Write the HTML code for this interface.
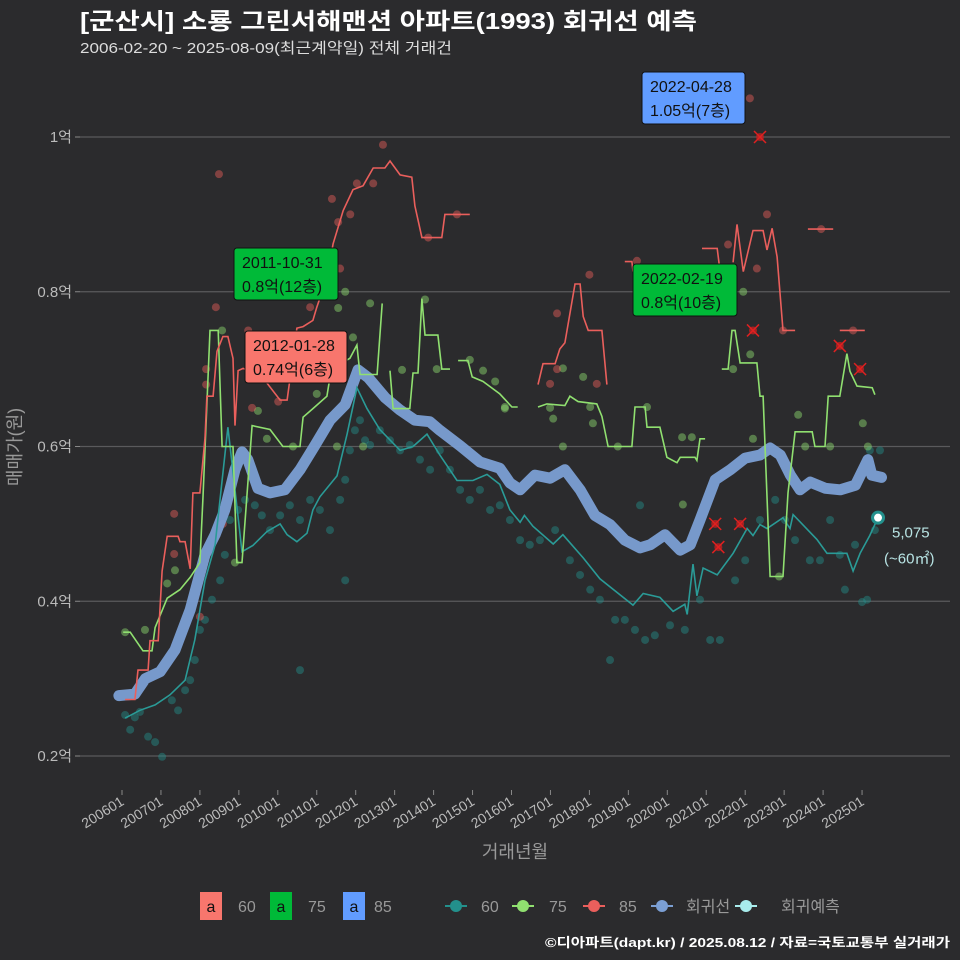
<!DOCTYPE html>
<html><head><meta charset="utf-8"><style>
body{margin:0;background:#2b2b2d;}
svg{display:block;font-family:"Liberation Sans","Noto Sans CJK KR",sans-serif;}
</style></head><body>
<svg id="c" width="960" height="960" viewBox="0 0 960 960" xmlns="http://www.w3.org/2000/svg">
<rect width="960" height="960" fill="#2b2b2d"/>
<text x="80" y="29" fill="#ffffff" font-size="23" font-weight="bold" textLength="617" lengthAdjust="spacingAndGlyphs">[군산시] 소룡 그린서해맨션 아파트(1993) 회귀선 예측</text>
<text x="80" y="53" fill="#dddddd" font-size="15" textLength="372" lengthAdjust="spacingAndGlyphs">2006-02-20 ~ 2025-08-09(최근계약일) 전체 거래건</text>
<g id="grid"></g><g id="marks"></g><g id="ann"></g>
<text x="515" y="858" fill="#999" font-size="18" text-anchor="middle">거래년월</text>
<text transform="translate(21,447) rotate(-90)" fill="#999" font-size="18" text-anchor="middle">매매가(원)</text>
<g font-size="16" fill="#999">
<rect x="200" y="892" width="22" height="28" fill="#F8766D"/><text x="211" y="912" fill="#111" text-anchor="middle">a</text><text x="238" y="912">60</text>
<rect x="270" y="892" width="22" height="28" fill="#00BA38"/><text x="281" y="912" fill="#111" text-anchor="middle">a</text><text x="308" y="912">75</text>
<rect x="343" y="892" width="22" height="28" fill="#619CFF"/><text x="354" y="912" fill="#111" text-anchor="middle">a</text><text x="374" y="912">85</text>
<g><line x1="445" y1="906" x2="467" y2="906" stroke="#23908c" stroke-width="2"/><circle cx="456" cy="906" r="6" fill="#23908c"/><text x="481" y="912">60</text></g>
<g><line x1="512" y1="906" x2="534" y2="906" stroke="#90e070" stroke-width="2"/><circle cx="523" cy="906" r="6" fill="#90e070"/><text x="549" y="912">75</text></g>
<g><line x1="583" y1="906" x2="605" y2="906" stroke="#ea5f5c" stroke-width="2"/><circle cx="594" cy="906" r="6" fill="#ea5f5c"/><text x="619" y="912">85</text></g>
<g><line x1="651" y1="906" x2="673" y2="906" stroke="#7b9fd4" stroke-width="2"/><circle cx="662" cy="906" r="6" fill="#7b9fd4"/><text x="686" y="912">회귀선</text></g>
<g><line x1="735" y1="906" x2="757" y2="906" stroke="#a8ecec" stroke-width="2"/><circle cx="746" cy="906" r="6" fill="#a8ecec"/><text x="781" y="912">회귀예측</text></g>
</g>
<text x="950" y="947" fill="#ffffff" font-size="13" font-weight="bold" text-anchor="end" textLength="405" lengthAdjust="spacingAndGlyphs">©디아파트(dapt.kr) / 2025.08.12 / 자료=국토교통부 실거래가</text>
</svg>
<script>
const yTicks=[0.2,0.4,0.6,0.8,1.0];
const yTickLabels=["0.2억","0.4억","0.6억","0.8억","1억"];
const xTickYears=[2006,2007,2008,2009,2010,2011,2012,2013,2014,2015,2016,2017,2018,2019,2020,2021,2022,2023,2024,2025];
const xTickLabels=["200601","200701","200801","200901","201001","201101","201201","201301","201401","201501","201601","201701","201801","201901","202001","202101","202201","202301","202401","202501"];
const regression=[[2005.92,0.278],[2006.33,0.28],[2006.6,0.3],[2006.98,0.309],[2007.36,0.337],[2007.75,0.389],[2008.13,0.46],[2008.39,0.486],[2008.64,0.518],[2008.9,0.57],[2009.08,0.593],[2009.23,0.583],[2009.49,0.546],[2009.8,0.54],[2010.18,0.544],[2010.57,0.57],[2010.96,0.602],[2011.34,0.634],[2011.73,0.654],[2012.06,0.699],[2012.32,0.689],[2012.76,0.663],[2013.14,0.647],[2013.52,0.634],[2013.9,0.632],[2014.16,0.621],[2014.68,0.601],[2015.19,0.58],[2015.7,0.572],[2015.96,0.553],[2016.22,0.544],[2016.6,0.563],[2016.99,0.559],[2017.37,0.57],[2017.76,0.544],[2018.14,0.511],[2018.53,0.499],[2018.91,0.479],[2019.3,0.469],[2019.56,0.473],[2019.94,0.486],[2020.33,0.466],[2020.59,0.473],[2020.84,0.505],[2021.23,0.557],[2021.62,0.57],[2022.0,0.585],[2022.38,0.589],[2022.64,0.598],[2022.9,0.589],[2023.16,0.563],[2023.41,0.544],[2023.67,0.554],[2024.06,0.546],[2024.44,0.544],[2024.83,0.55],[2025.15,0.583],[2025.25,0.563],[2025.5,0.56]];
const line60=[[2006.08,0.249],[2006.46,0.259],[2006.85,0.266],[2007.23,0.279],[2007.62,0.298],[2007.87,0.35],[2008.13,0.427],[2008.39,0.473],[2008.72,0.625],[2009.08,0.464],[2009.36,0.472],[2009.72,0.49],[2010.06,0.5],[2010.24,0.486],[2010.49,0.477],[2010.75,0.488],[2010.9,0.518],[2011.08,0.535],[2011.52,0.562],[2011.78,0.616],[2012.03,0.676],[2012.29,0.649],[2012.62,0.622],[2013.14,0.595],[2013.47,0.6],[2013.83,0.616],[2014.16,0.589],[2014.6,0.556],[2015.01,0.556],[2015.37,0.564],[2015.7,0.551],[2015.96,0.518],[2016.22,0.502],[2016.33,0.511],[2016.55,0.497],[2017.07,0.474],[2017.32,0.486],[2017.84,0.456],[2018.27,0.429],[2019.12,0.395],[2019.38,0.41],[2019.81,0.405],[2020.15,0.387],[2020.45,0.396],[2020.51,0.383],[2020.66,0.448],[2020.76,0.407],[2020.92,0.443],[2021.28,0.434],[2021.69,0.462],[2022.05,0.494],[2022.2,0.485],[2022.38,0.499],[2022.56,0.494],[2022.97,0.508],[2023.15,0.494],[2023.23,0.512],[2023.84,0.48],[2024.1,0.462],[2024.61,0.462],[2024.77,0.439],[2024.95,0.462],[2025.2,0.485],[2025.41,0.508]];
const line75=[[2006.03,0.36],[2006.21,0.36],[2006.54,0.336],[2006.77,0.336],[2006.85,0.366],[2007.16,0.404],[2007.49,0.415],[2007.75,0.431],[2008.0,0.45],[2008.08,0.535],[2008.26,0.75],[2008.47,0.75],[2008.57,0.6],[2008.85,0.6],[2008.95,0.45],[2009.08,0.45],[2009.34,0.627],[2009.8,0.622],[2010.13,0.6],[2010.57,0.6],[2010.65,0.638],[2010.9,0.649],[2011.26,0.665],[2011.42,0.714],[2011.68,0.709],[2011.85,0.714],[2012.03,0.731],[2012.11,0.693],[2012.55,0.693],[2012.68,0.785],null,[2012.88,0.698],[2012.96,0.649],[2013.39,0.649],[2013.47,0.695],[2013.6,0.695],[2013.7,0.791],[2013.78,0.744],[2014.11,0.744],[2014.21,0.7],[2014.42,0.7],null,[2014.63,0.711],[2014.88,0.711],[2014.99,0.69],[2015.27,0.684],[2015.7,0.668],[2016.01,0.651],[2016.16,0.651],null,[2016.68,0.651],[2016.91,0.655],[2017.37,0.653],[2017.5,0.665],[2017.71,0.658],[2018.19,0.655],[2018.32,0.639],[2018.48,0.6],[2019.09,0.6],[2019.17,0.651],[2019.43,0.651],[2019.48,0.625],[2019.81,0.625],[2019.99,0.586],[2020.25,0.579],[2020.33,0.586],[2020.71,0.586],[2020.76,0.582],[2020.84,0.61],[2020.97,0.61],null,[2021.4,0.7],[2021.56,0.7],[2021.66,0.75],[2021.74,0.75],[2021.87,0.708],[2022.3,0.708],[2022.38,0.665],[2022.46,0.665],[2022.64,0.432],[2022.97,0.432],[2023.1,0.54],[2023.28,0.619],[2023.72,0.619],[2023.79,0.6],[2024.05,0.6],[2024.13,0.665],[2024.43,0.665],[2024.61,0.72],[2024.69,0.697],[2024.87,0.678],[2025.26,0.676],[2025.33,0.667]];
const line85=[[2006.08,0.273],[2006.33,0.273],[2006.41,0.311],[2006.67,0.311],[2006.72,0.349],[2006.93,0.349],[2007.03,0.439],[2007.16,0.484],[2007.44,0.484],[2007.49,0.477],[2007.62,0.477],[2007.75,0.442],[2007.82,0.54],[2008.0,0.54],[2008.13,0.611],[2008.18,0.665],[2008.34,0.665],[2008.44,0.723],[2008.59,0.742],[2008.72,0.742],[2008.85,0.714],[2008.9,0.627],[2008.98,0.698],[2009.11,0.701],[2009.6,0.69],[2010.06,0.66],[2010.24,0.66],[2010.49,0.753],[2010.65,0.755],[2010.9,0.763],[2011.0,0.78],[2011.26,0.818],[2011.42,0.862],[2011.68,0.905],[2011.93,0.932],[2012.19,0.937],[2012.45,0.96],[2012.75,0.96],[2012.88,0.969],[2013.14,0.951],[2013.44,0.948],[2013.52,0.911],[2013.7,0.87],[2014.21,0.87],[2014.29,0.9],[2014.93,0.9],null,[2016.68,0.68],[2016.81,0.707],[2017.12,0.707],[2017.24,0.726],[2017.37,0.734],[2017.63,0.81],[2017.76,0.81],[2017.84,0.768],[2017.97,0.75],[2018.32,0.75],[2018.45,0.68],null,[2018.91,0.839],[2019.09,0.839],[2019.12,0.826],null,[2020.89,0.856],[2021.28,0.856],[2021.35,0.828],null,[2021.69,0.838],[2021.79,0.887],[2021.95,0.826],[2022.2,0.879],[2022.46,0.879],[2022.56,0.854],[2022.69,0.882],[2022.82,0.845],[2022.97,0.75],[2023.28,0.75],null,[2023.61,0.881],[2024.26,0.881],null,[2024.43,0.75],[2025.07,0.75]];
const dots60=[[2006.08,0.253],[2006.21,0.234],[2006.33,0.25],[2006.46,0.257],[2006.67,0.225],[2006.85,0.218],[2007.03,0.199],[2007.28,0.272],[2007.44,0.259],[2007.62,0.285],[2007.75,0.298],[2007.87,0.324],[2008.0,0.363],[2008.13,0.376],[2008.31,0.402],[2008.52,0.427],[2008.64,0.46],[2008.77,0.505],[2008.98,0.518],[2009.16,0.531],[2009.41,0.524],[2009.59,0.511],[2009.8,0.492],[2010.06,0.511],[2010.31,0.524],[2010.57,0.505],[2010.83,0.531],[2011.08,0.518],[2011.34,0.492],[2011.6,0.531],[2011.73,0.557],[2011.85,0.595],[2011.98,0.621],[2012.11,0.634],[2012.24,0.608],[2012.37,0.602],[2012.62,0.621],[2012.88,0.608],[2013.14,0.595],[2013.39,0.602],[2013.65,0.583],[2013.91,0.57],[2014.16,0.595],[2014.42,0.57],[2014.68,0.544],[2014.93,0.531],[2015.19,0.544],[2015.45,0.518],[2015.7,0.524],[2015.96,0.505],[2016.22,0.479],[2016.47,0.473],[2016.73,0.479],[2017.12,0.492],[2017.5,0.453],[2017.76,0.434],[2018.02,0.415],[2018.27,0.402],[2018.66,0.376],[2018.91,0.376],[2019.17,0.363],[2019.43,0.35],[2019.68,0.356],[2020.07,0.369],[2020.45,0.363],[2020.84,0.402],[2021.1,0.35],[2021.35,0.35],[2021.74,0.427],[2022.0,0.453],[2022.38,0.505],[2022.77,0.531],[2023.02,0.505],[2023.28,0.479],[2023.66,0.453],[2023.92,0.453],[2024.18,0.505],[2024.43,0.46],[2024.56,0.415],[2024.82,0.473],[2025.0,0.399],[2025.13,0.402],[2025.33,0.492],[2025.46,0.595],[2025.2,0.595],[2018.53,0.324],[2010.57,0.311],[2011.73,0.427],[2019.3,0.524]];
const dots75=[[2006.08,0.36],[2006.59,0.363],[2007.16,0.423],[2007.36,0.44],[2008.57,0.75],[2008.9,0.45],[2009.49,0.646],[2009.72,0.61],[2010.39,0.6],[2011.0,0.668],[2011.73,0.8],[2011.55,0.779],[2012.37,0.785],[2011.93,0.741],[2013.19,0.699],[2013.78,0.79],[2014.08,0.7],[2014.93,0.712],[2015.27,0.698],[2015.58,0.684],[2015.83,0.649],[2012.19,0.6],[2011.52,0.6],[2015.83,0.651],[2016.99,0.65],[2017.07,0.636],[2017.32,0.701],[2017.84,0.69],[2018.02,0.651],[2018.09,0.63],[2017.32,0.6],[2018.73,0.6],[2019.48,0.651],[2020.38,0.612],[2020.63,0.612],[2020.4,0.525],[2021.95,0.8],[2021.69,0.7],[2022.13,0.719],[2022.2,0.61],[2023.36,0.641],[2023.54,0.6],[2024.18,0.6],[2025.02,0.63],[2025.15,0.6],[2022.87,0.432]];
const dots85=[[2008.49,0.952],[2011.39,0.92],[2012.03,0.94],[2012.7,0.99],[2012.45,0.94],[2011.55,0.89],[2011.86,0.9],[2013.86,0.87],[2014.6,0.9],[2008.41,0.78],[2008.16,0.7],[2008.16,0.68],[2007.34,0.513],[2007.34,0.461],[2008.59,0.5],[2008.0,0.38],[2009.34,0.65],[2010.01,0.658],[2010.83,0.78],[2011.6,0.83],[2009.24,0.75],[2018.0,0.822],[2017.17,0.772],[2016.99,0.681],[2017.17,0.7],[2019.22,0.84],[2021.56,0.861],[2022.3,0.83],[2022.56,0.9],[2022.97,0.75],[2023.95,0.881],[2024.77,0.75],[2018.19,0.681],[2022.12,1.05]];
const crossPts=[[2022.38,1.0],[2022.2,0.75],[2024.43,0.73],[2024.95,0.7],[2021.23,0.5],[2021.87,0.5],[2021.31,0.47]];
const lastPoint=[2025.41,0.508];
const lastLabel="5,075";

const NS="http://www.w3.org/2000/svg";
const xs=t=>122+(t-2006)*38.95;
const ys=v=>756-(v-0.2)*773.75;
function mk(tag,attrs,parent){const e=document.createElementNS(NS,tag);for(const k in attrs)e.setAttribute(k,attrs[k]);parent.appendChild(e);return e;}
const grid=document.getElementById('grid'),marks=document.getElementById('marks'),ann=document.getElementById('ann');
yTicks.forEach((v,i)=>{
  const l=mk('line',{x1:80,x2:950,y1:ys(v),y2:ys(v),stroke:'#5a5a5c','stroke-width':1.2},grid);
  
  
  mk('line',{x1:75,x2:80,y1:ys(v),y2:ys(v),stroke:'#888'},grid);
  const t=mk('text',{x:72,y:ys(v)+5,fill:'#bbb','font-size':15,'text-anchor':'end'},grid);t.textContent=yTickLabels[i];
  
  
});
xTickYears.forEach((yr,i)=>{
  const x=xs(yr);
  mk('line',{x1:x,x2:x,y1:790,y2:795,stroke:'#888'},grid);
  const t=mk('text',{transform:`translate(${x+3},${804}) rotate(-32)`,fill:'#bbb','font-size':14,'text-anchor':'end'},grid);t.textContent=xTickLabels[i];
  
  
});
function pathOf(arr){let d='',pen=false;arr.forEach(p=>{if(!p){pen=false;return;}d+=(pen?'L':'M')+xs(p[0]).toFixed(1)+','+ys(p[1]).toFixed(1);pen=true;});return d;}
function dots(arr,col,name){arr.forEach(p=>{const c=mk('circle',{cx:xs(p[0]),cy:ys(p[1]),r:4,fill:col,'fill-opacity':0.45},marks);
  
  });}
dots(dots60,'#23908c','dot-60');dots(dots75,'#90e070','dot-75');dots(dots85,'#ea5f5c','dot-85');
const r=mk('path',{d:pathOf(regression),fill:'none',stroke:'#7b9fd4','stroke-width':11,'stroke-linejoin':'round','stroke-linecap':'round','stroke-opacity':0.95},marks);


[[line60,'#2a9b97','line-60'],[line75,'#90e070','line-75'],[line85,'#ea5f5c','line-85']].forEach(s=>{
  const p=mk('path',{d:pathOf(s[0]),fill:'none',stroke:s[1],'stroke-width':1.6},marks);
  
  
});
crossPts.forEach(p=>{const g=mk('g',{},marks);
  
  
  const x=xs(p[0]),y=ys(p[1]);
  mk('circle',{cx:x,cy:y,r:4,fill:'#c02020','fill-opacity':0.8},g);
  mk('path',{d:`M${x-6},${y-6}L${x+6},${y+6}M${x-6},${y+6}L${x+6},${y-6}`,stroke:'#e02020','stroke-width':1.5},g);});
const lp=mk('circle',{cx:xs(lastPoint[0]),cy:ys(lastPoint[1]),r:5.5,fill:'#fff',stroke:'#23908c','stroke-width':3},marks);


const l1=mk('text',{x:xs(lastPoint[0])+14,y:ys(lastPoint[1])+20,fill:'#b8e4e4','font-size':15},ann);l1.textContent=lastLabel;


const l2=mk('text',{x:xs(lastPoint[0])+6,y:ys(lastPoint[1])+46,fill:'#b8e4e4','font-size':15},ann);l2.textContent="(~60㎡)";


function box(x,y,w,h,col,a,b,name){const g=mk('g',{},ann);
  
  
  mk('rect',{x:x,y:y,width:w,height:h,rx:3,fill:col,stroke:'#111','stroke-width':1},g);
  const t1=mk('text',{x:x+8,y:y+20,fill:'#111','font-size':16},g);t1.textContent=a;
  const t2=mk('text',{x:x+8,y:y+44,fill:'#111','font-size':16},g);t2.textContent=b;}
box(642,72,103,52,'#619CFF','2022-04-28','1.05억(7층)','annotation-max-85');
box(234,248,104,52,'#00BA38','2011-10-31','0.8억(12층)','annotation-max-75-2011');
box(245,331,102,52,'#F8766D','2012-01-28','0.74억(6층)','annotation-max-60');
box(633,264,104,52,'#00BA38','2022-02-19','0.8억(10층)','annotation-max-75-2022');
</script>
</body></html>
